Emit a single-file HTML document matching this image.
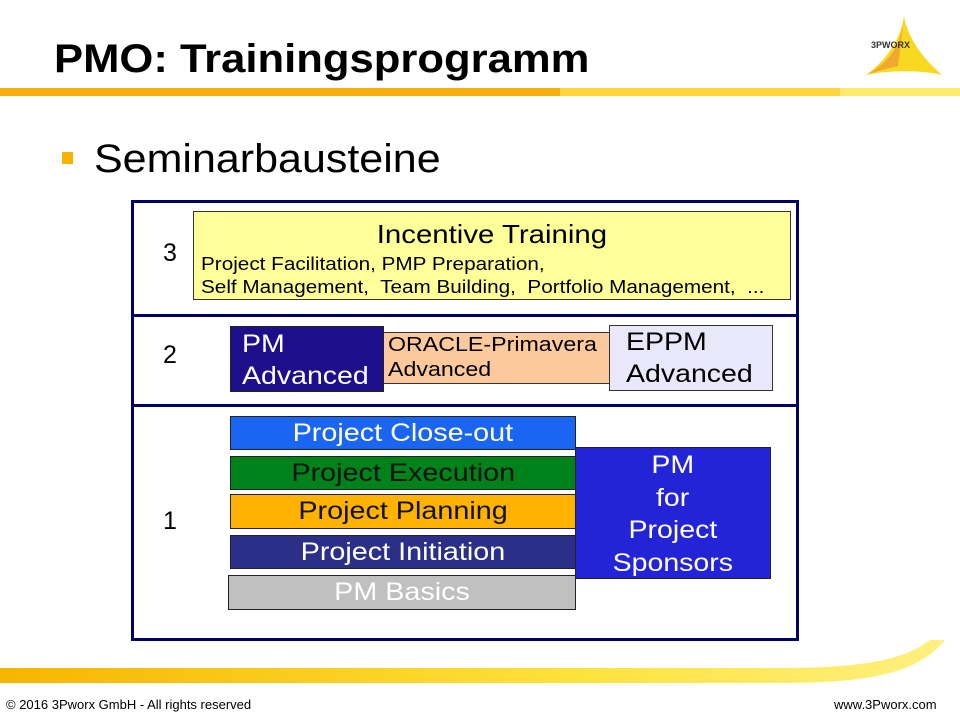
<!DOCTYPE html>
<html><head><meta charset="utf-8"><style>
body{margin:0;width:960px;height:720px;position:relative;background:#fff;font-family:"Liberation Sans",Arial,sans-serif;overflow:hidden}
.a{position:absolute;box-sizing:border-box}
.s{display:inline-block;transform:scaleX(1.14);transform-origin:left center;white-space:nowrap}
.c{display:inline-block;transform:scaleX(1.14);transform-origin:center center;white-space:nowrap}
.bar{border:1px solid #222;text-align:center;font-size:25px;line-height:32px}
</style></head><body>
<svg class="a" style="left:0;top:0" width="960" height="720">
<defs>
<linearGradient id="g" x1="0" x2="1" y1="0" y2="0"><stop offset="0" stop-color="#f7b500"/><stop offset="0.6" stop-color="#fde23a"/><stop offset="1" stop-color="#fff080"/></linearGradient>
</defs>
<rect x="0" y="88" width="560" height="8" fill="#f5b00d"/>
<rect x="560" y="88" width="280" height="8" fill="#fcd53a"/>
<rect x="840" y="88" width="120" height="8" fill="#fdea6a"/>
<path d="M0 668 L780 668 C860 668 905 660 930 640 L945 640 C920 670 880 683 780 683 L0 683 Z" fill="url(#g)"/>
<path d="M904 16 C900 45 880 65 866 75 C885 70 925 70 942 75 C925 60 908 40 904 16 Z" fill="#f8d820"/>
<path d="M904 16 C902 45 890 62 866 75 C880 70 890 68 898 66 C900 50 903 30 904 16Z" fill="#f0a830"/>
</svg>
<div class="a" style="left:871px;top:40px;font-size:9px;font-weight:bold;color:#333">3PWORX</div>
<div class="a" style="left:54px;top:37px;font-size:40px;font-weight:bold"><span class="s" style="transform:scaleX(1.09)">PMO: Trainingsprogramm</span></div>
<div class="a" style="left:62px;top:152px;width:11px;height:12px;background:#f5b400"></div>
<div class="a" style="left:94px;top:137px;font-size:40px"><span class="s" style="transform:scaleX(1.075)">Seminarbausteine</span></div>

<div class="a" style="left:131px;top:200px;width:668px;height:441px;border:3px solid #000066"></div>
<div class="a" style="left:131px;top:314px;width:668px;height:3px;background:#000066"></div>
<div class="a" style="left:131px;top:404px;width:668px;height:3px;background:#000066"></div>

<div class="a" style="left:163px;top:239px;font-size:25px">3</div>
<div class="a" style="left:163px;top:341px;font-size:25px">2</div>
<div class="a" style="left:163px;top:507px;font-size:25px">1</div>

<div class="a" style="left:193px;top:211px;width:598px;height:89px;background:#ffff99;border:1px solid #333"></div>
<div class="a" style="left:193px;top:219px;width:598px;text-align:center;font-size:26px"><span class="c" style="transform:scaleX(1.13)">Incentive Training</span></div>
<div class="a" style="left:201px;top:253px;font-size:18px;line-height:23px"><span class="s" style="transform:scaleX(1.15)">Project Facilitation, PMP Preparation,</span><br><span class="s" style="transform:scaleX(1.15)">Self Management,&nbsp; Team Building,&nbsp; Portfolio Management,&nbsp; ...</span></div>

<div class="a" style="left:383px;top:332px;width:227px;height:52px;background:#fcc99c;border:1px solid #333;font-size:20px;line-height:25px;padding:0 0 0 4px"><span class="s" style="transform:scaleX(1.16)">ORACLE-Primavera</span><br><span class="s" style="transform:scaleX(1.16)">Advanced</span></div>
<div class="a" style="left:230px;top:326px;width:154px;height:66px;background:#1d0f8c;border:1px solid #222;color:#fff;font-size:25px;line-height:32px;padding:1px 0 0 11px"><span class="s">PM</span><br><span class="s">Advanced</span></div>
<div class="a" style="left:609px;top:325px;width:164px;height:66px;background:#e8e8fa;border:1px solid #333;font-size:25px;line-height:32px;padding:0 0 0 16px"><span class="s">EPPM</span><br><span class="s">Advanced</span></div>

<div class="a bar" style="left:230px;top:416px;width:346px;height:34px;background:#1a66f2;color:#fff"><span class="c" style="transform:scaleX(1.15)">Project Close-out</span></div>
<div class="a bar" style="left:230px;top:456px;width:346px;height:34px;background:#00821a;color:#111"><span class="c" style="transform:scaleX(1.15)">Project Execution</span></div>
<div class="a bar" style="left:230px;top:494px;width:346px;height:35px;background:#ffb300;color:#111"><span class="c" style="transform:scaleX(1.15)">Project Planning</span></div>
<div class="a bar" style="left:230px;top:535px;width:346px;height:34px;background:#2b2f88;color:#fff"><span class="c" style="transform:scaleX(1.15)">Project Initiation</span></div>
<div class="a bar" style="left:228px;top:575px;width:348px;height:35px;background:#c0c0c0;color:#fff"><span class="c" style="transform:scaleX(1.15)">PM Basics</span></div>
<div class="a" style="left:575px;top:447px;width:196px;height:132px;background:#2323d8;border:1px solid #222;color:#fff;text-align:center;font-size:25px;line-height:32.5px;padding-top:1px"><span class="c">PM</span><br><span class="c">for</span><br><span class="c">Project</span><br><span class="c">Sponsors</span></div>

<div class="a" style="left:6px;top:697px;font-size:13px">© 2016 3Pworx GmbH - All rights reserved</div>
<div class="a" style="left:834px;top:697px;font-size:13px">www.3Pworx.com</div>
</body></html>
